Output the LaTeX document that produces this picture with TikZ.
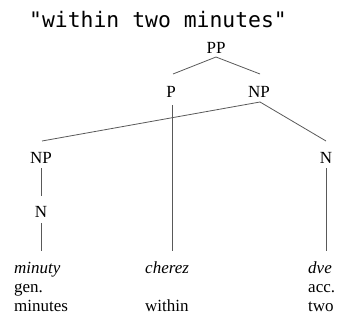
\documentclass[tikz,border=0pt]{standalone}
\usepackage{fontspec}
\setmainfont{Liberation Serif}
\newfontfamily\titlefont{DejaVu Sans Mono}
\begin{document}
\begin{tikzpicture}[x=1pt,y=-1pt,
  lbl/.style={inner sep=0pt,anchor=base,font=\fontsize{17}{20}\selectfont},
  word/.style={inner sep=0pt,anchor=base west,font=\fontsize{17}{20}\selectfont},
  branch/.style={draw=black!65,line width=0.8pt}]
\useasboundingbox (0,0) rectangle (339,321);
% title
\node[inner sep=0pt,anchor=base west,font=\titlefont\fontsize{21.4}{24}\selectfont] (title) at (29,28) {"within two minutes"};
% tree labels
\node[lbl] (PP) at (216,53) {PP};
\node[lbl] (P) at (171,97) {P};
\node[lbl] (NPa) at (259,97) {NP};
\node[lbl] (NPb) at (41,163) {NP};
\node[lbl] (Nr) at (326,163) {N};
\node[lbl] (Nl) at (41,217) {N};
% words and glosses
\node[word] (minuty) at (14,273) {\itshape minuty};
\node[word] (gen) at (14,292) {gen.};
\node[word] (minutes) at (14,311) {minutes};
\node[word] (cherez) at (145,273) {\itshape cherez};
\node[word] (within) at (145,311) {within};
\node[word] (dve) at (308,273) {\itshape dve};
\node[word] (acc) at (308,292) {acc.};
\node[word] (two) at (308,311) {two};
% branches (yshift is measured upwards)
\draw[branch] ([yshift=-4pt]PP.base) -- ([xshift=2pt,yshift=23pt]P.base);
\draw[branch] ([yshift=-4pt]PP.base) -- ([xshift=1pt,yshift=23pt]NPa.base);
\draw[branch] ([xshift=1pt,yshift=-5pt]NPa.base) -- ([xshift=1pt,yshift=22pt]NPb.base);
\draw[branch] ([xshift=1pt,yshift=-5pt]NPa.base) -- ([yshift=22pt]Nr.base);
\draw[branch] ([xshift=1pt,yshift=-8pt]P.base) -- ([xshift=1pt,yshift=22pt]P.base |- cherez.base);
\draw[branch] ([yshift=-5pt]NPb.base) -- ([yshift=21pt]Nl.base);
\draw[branch] ([yshift=-6pt]Nl.base) -- ([yshift=22pt]Nl.base |- minuty.base);
\draw[branch] ([yshift=-5pt]Nr.base) -- ([yshift=22pt]Nr.base |- dve.base);
\end{tikzpicture}
\end{document}
